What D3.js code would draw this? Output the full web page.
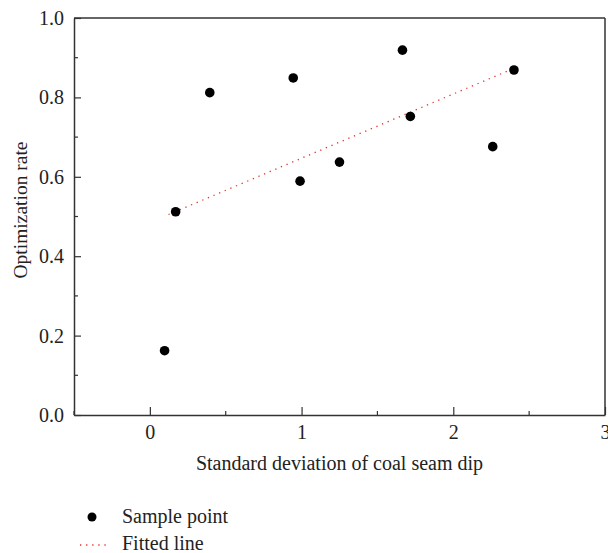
<!DOCTYPE html>
<html>
<head>
<meta charset="utf-8">
<script src="https://cdn.jsdelivr.net/npm/d3@7"></script>
<style>
  body { margin: 0; background: #fff; }
  svg text { font-family: "Liberation Serif", "DejaVu Serif", serif; fill: #222; }
</style>
</head>
<body>
<script>
// sample points
const sampleX = [0.097, 0.17, 0.395, 0.945, 0.99, 1.25, 1.665, 1.717, 2.26, 2.40]
const sampleY = [0.162, 0.512, 0.812, 0.849, 0.589, 0.637, 0.919, 0.752, 0.676, 0.869]

// fitted line end points
const fitX = [0.123, 2.386]
const fitY = [0.505, 0.871]

const xTicks = [0, 1, 2, 3]
const xMinor = [-0.5, 0.5, 1.5, 2.5]
const yTicks = [0.0, 0.2, 0.4, 0.6, 0.8, 1.0]
const yMinor = [0.1, 0.3, 0.5, 0.7, 0.9]

const width = 608
const height = 553
const marginLeft = 74
const marginRight = 3
const marginTop = 18
const plotBottom = 415
const fontSize = "20px"

const svg = d3.select("body").append("svg")
    .attr("width", width)
    .attr("height", height)

const x = d3.scaleLinear().domain([-0.5, 3]).range([marginLeft, width - marginRight])
const y = d3.scaleLinear().domain([0, 1]).range([plotBottom, marginTop])

const axisColor = "#333"

// x axis (ticks pointing inward)
const gx = svg.append("g")
    .attr("transform", `translate(0,${plotBottom})`)
    .call(d3.axisBottom(x).tickValues(xTicks).tickSize(-8).tickPadding(10)
        .tickFormat(d3.format("d")).tickSizeOuter(0))
gx.select(".domain").attr("stroke", axisColor).attr("stroke-width", 1.5)
gx.selectAll(".tick line").attr("stroke", axisColor).attr("stroke-width", 1.2)
gx.selectAll(".tick text").style("font-size", fontSize).attr("fill", "#222")
gx.selectAll(".minor").data(xMinor).join("line")
    .attr("x1", d => x(d)).attr("x2", d => x(d))
    .attr("y1", 0).attr("y2", -4)
    .attr("stroke", axisColor).attr("stroke-width", 1.2)

// y axis
const gy = svg.append("g")
    .attr("transform", `translate(${marginLeft},0)`)
    .call(d3.axisLeft(y).tickValues(yTicks).tickSize(-7).tickPadding(10)
        .tickFormat(d3.format(".1f")).tickSizeOuter(0))
gy.select(".domain").attr("stroke", axisColor).attr("stroke-width", 1.5)
gy.selectAll(".tick line").attr("stroke", axisColor).attr("stroke-width", 1.2)
gy.selectAll(".tick text").style("font-size", fontSize).attr("fill", "#222")
gy.selectAll(".minor").data(yMinor).join("line")
    .attr("x1", 0).attr("x2", 4)
    .attr("y1", d => y(d)).attr("y2", d => y(d))
    .attr("stroke", axisColor).attr("stroke-width", 1.2)

// top and right frame
svg.append("line")
    .attr("x1", x(-0.5)).attr("x2", x(3))
    .attr("y1", y(1)).attr("y2", y(1))
    .attr("stroke", axisColor).attr("stroke-width", 1.5)
svg.append("line")
    .attr("x1", x(3)).attr("x2", x(3))
    .attr("y1", y(1)).attr("y2", y(0))
    .attr("stroke", axisColor).attr("stroke-width", 1.5)

// fitted line
svg.append("line")
    .attr("x1", x(fitX[0])).attr("y1", y(fitY[0]))
    .attr("x2", x(fitX[1])).attr("y2", y(fitY[1]))
    .attr("stroke", "#e8302a")
    .attr("stroke-width", 1.3)
    .attr("stroke-dasharray", "1.3,4.8")

// points
svg.append("g").selectAll("circle")
    .data(d3.range(sampleX.length))
    .join("circle")
    .attr("cx", i => x(sampleX[i]))
    .attr("cy", i => y(sampleY[i]))
    .attr("r", 4.8)
    .attr("fill", "#000")

// axis titles
svg.append("text")
    .attr("x", (marginLeft + width - marginRight) / 2)
    .attr("y", 470)
    .attr("text-anchor", "middle")
    .style("font-size", fontSize)
    .text("Standard deviation of coal seam dip")

svg.append("text")
    .attr("transform", `translate(27,210) rotate(-90)`)
    .attr("text-anchor", "middle")
    .style("font-size", "19.5px")
    .text("Optimization rate")

// legend
svg.append("circle")
    .attr("cx", 92).attr("cy", 517).attr("r", 4.5).attr("fill", "#000")
svg.append("text")
    .attr("x", 122).attr("y", 523)
    .style("font-size", fontSize)
    .text("Sample point")
svg.append("line")
    .attr("x1", 80).attr("x2", 110).attr("y1", 545).attr("y2", 545)
    .attr("stroke", "#e8302a").attr("stroke-width", 1.3)
    .attr("stroke-dasharray", "1.3,4.8")
svg.append("text")
    .attr("x", 122).attr("y", 550)
    .style("font-size", fontSize)
    .text("Fitted line")
</script>
</body>
</html>
